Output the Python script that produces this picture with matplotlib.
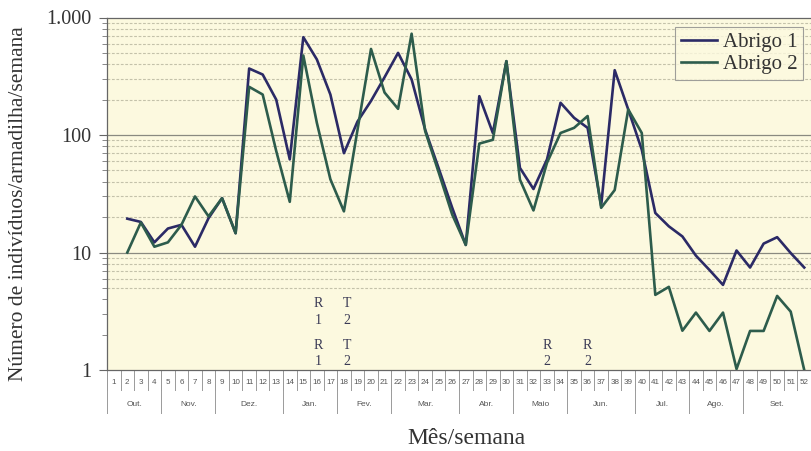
import matplotlib
matplotlib.use("Agg")
import matplotlib.pyplot as plt
import numpy as np

# ---------------- data ----------------
weeks = list(range(2, 53))
abrigo1 = [19.4, 18.2, 12.2, 16, 17.2, 11.2, 19.6, 29, 14.6, 368, 327, 200, 62,
           680, 440, 221, 70, 130, 195, 310, 500, 297, 111, 52, 24, 11.6, 214,
           104, 425, 52.5, 34.7, 62, 188, 140, 115, 25, 356, 165, 75, 21.7,
           16.7, 13.7, 9.4, 7.1, 5.3, 10.4, 7.45, 11.9, 13.5, 9.9, 7.45]
abrigo2 = [10, 18, 11.2, 12.2, 17.2, 30, 20.3, 29, 14.6, 257, 221, 73, 27,
           475, 127, 42, 22.4, 110, 540, 230, 167, 728, 108, 48, 21, 11.6, 84.5,
           91, 425, 41.7, 22.8, 58, 104, 115, 145, 24, 34, 165, 104, 4.36,
           5.1, 2.16, 3.08, 2.15, 3.08, 1.02, 2.15, 2.15, 4.27, 3.14, 1.0]
week_labels = [str(i) for i in range(1, 53)]
months = ["Out.", "Nov.", "Dez.", "Jan.", "Fev.", "Mar.", "Abr.", "Maio",
          "Jun.", "Jul.", "Ago.", "Set."]
month_first_week = [1, 5, 9, 14, 18, 22, 27, 31, 35, 40, 44, 48]
month_last_week = [4, 8, 13, 17, 21, 26, 30, 34, 39, 43, 47, 52]
ytick_vals = [1, 10, 100, 1000]
ytick_labels = ["1", "10", "100", "1.000"]
# annotations: (letter, digit, week position, letter y, digit y)
annotations = [("R", "1", 16.1, 3.65, 2.62), ("T", "2", 18.2, 3.65, 2.62),
               ("R", "1", 16.1, 1.63, 1.17), ("T", "2", 18.2, 1.63, 1.17),
               ("R", "2", 33.0, 1.63, 1.17), ("R", "2", 36.0, 1.63, 1.17)]

# ---------------- style ----------------
serif = ["Liberation Serif", "DejaVu Serif"]
sans = ["Liberation Sans", "DejaVu Sans"]
c1 = "#2b2a66"
c2 = "#2d5c4c"
bg = "#fcf9df"

W, H = 812, 451
fig = plt.figure(figsize=(W / 100, H / 100), dpi=100)
fig.patch.set_facecolor("white")
ax_l, ax_r, ax_t, ax_b = 107, 811, 17.5, 370
ax = fig.add_axes([ax_l / W, 1 - ax_b / H, (ax_r - ax_l) / W, (ax_b - ax_t) / H])
ax.set_facecolor(bg)
ax.set_yscale("log")
ax.set_ylim(1, 1000)
ax.set_xlim(0.5, 52.5)

# grid lines
for dec in [10, 100]:
    ax.axhline(dec, color="#8a8a80", lw=0.9, zorder=1)
minor_levels = [m * 1 for m in range(5, 10)] + [m * 10 for m in range(2, 10)] + \
               [m * 100 for m in range(2, 10)]
for v in minor_levels:
    ax.axhline(v, color="#c4c2aa", lw=0.8, ls=(0, (2.5, 1.5)), zorder=1)

ax.plot(weeks, abrigo1, color=c1, lw=1.9, label="Abrigo 1", zorder=3)
ax.plot(weeks, abrigo2, color=c2, lw=1.9, label="Abrigo 2", zorder=4)

# y ticks
ax.set_yticks(ytick_vals)
ax.set_yticklabels(ytick_labels, fontfamily=serif, fontsize=14.5, color="#333333")
ax.yaxis.set_minor_formatter(matplotlib.ticker.NullFormatter())
ax.tick_params(axis="y", which="major", length=6, width=0.8, color="#666666", pad=5)
ax.tick_params(axis="y", which="minor", length=3.5, width=0.7, color="#888888")
ax.set_xticks([])

for s in ["left", "bottom", "top"]:
    ax.spines[s].set_color("#666666")
    ax.spines[s].set_linewidth(0.9)
ax.spines["right"].set_visible(False)

# x table below axis
axh = ax_b - ax_t
def fy(px):
    return -px / axh
tr = ax.get_xaxis_transform()
for b in range(0, 53):
    xb = b + 0.5
    ax.plot([xb, xb], [0, fy(20)], transform=tr, color="#9a9a9a", lw=0.7, clip_on=False)
for i, lab in enumerate(week_labels):
    ax.text(i + 1, fy(12), lab, transform=tr, ha="center", va="center",
            fontsize=5.8, color="#555555", fontfamily=sans)
for m, f, l in zip(months, month_first_week, month_last_week):
    ax.text((f + l) / 2, fy(34), m, transform=tr, ha="center", va="center",
            fontsize=6, color="#555555", fontfamily=sans)
    ax.plot([l + 0.5, l + 0.5], [0, fy(43)], transform=tr, color="#9a9a9a", lw=0.7, clip_on=False)
ax.plot([0.5, 0.5], [0, fy(43)], transform=tr, color="#9a9a9a", lw=0.7, clip_on=False)

# annotations
for letter, digit, xw, yl, yd in annotations:
    ax.text(xw, yl, letter, ha="center", va="center", fontsize=10,
            fontfamily=serif, color="#3a3a55", zorder=5)
    ax.text(xw, yd, digit, ha="center", va="center", fontsize=10,
            fontfamily=serif, color="#3a3a55", zorder=5)

# legend
leg = ax.legend(loc="upper right", bbox_to_anchor=(0.989, 0.973), borderaxespad=0,
                prop={"family": serif, "size": 15}, frameon=True, fancybox=False,
                handlelength=1.7, handletextpad=0.3, labelspacing=0.1, borderpad=0.28)
leg.get_frame().set_edgecolor("#888888")
leg.get_frame().set_facecolor(bg)
leg.get_frame().set_linewidth(0.8)
for t in leg.get_texts():
    t.set_color("#333333")

# axis labels
fig.text(19 / W, 1 - 204 / H, "Número de indivíduos/armadilha/semana", rotation=90,
         ha="center", va="center", fontsize=15.5, fontfamily=serif, color="#333333")
fig.text(466 / W, 1 - 438 / H, "Mês/semana", ha="center", va="center",
         fontsize=17, fontfamily=serif, color="#333333")

fig.savefig("out.png", dpi=100, facecolor="white")
